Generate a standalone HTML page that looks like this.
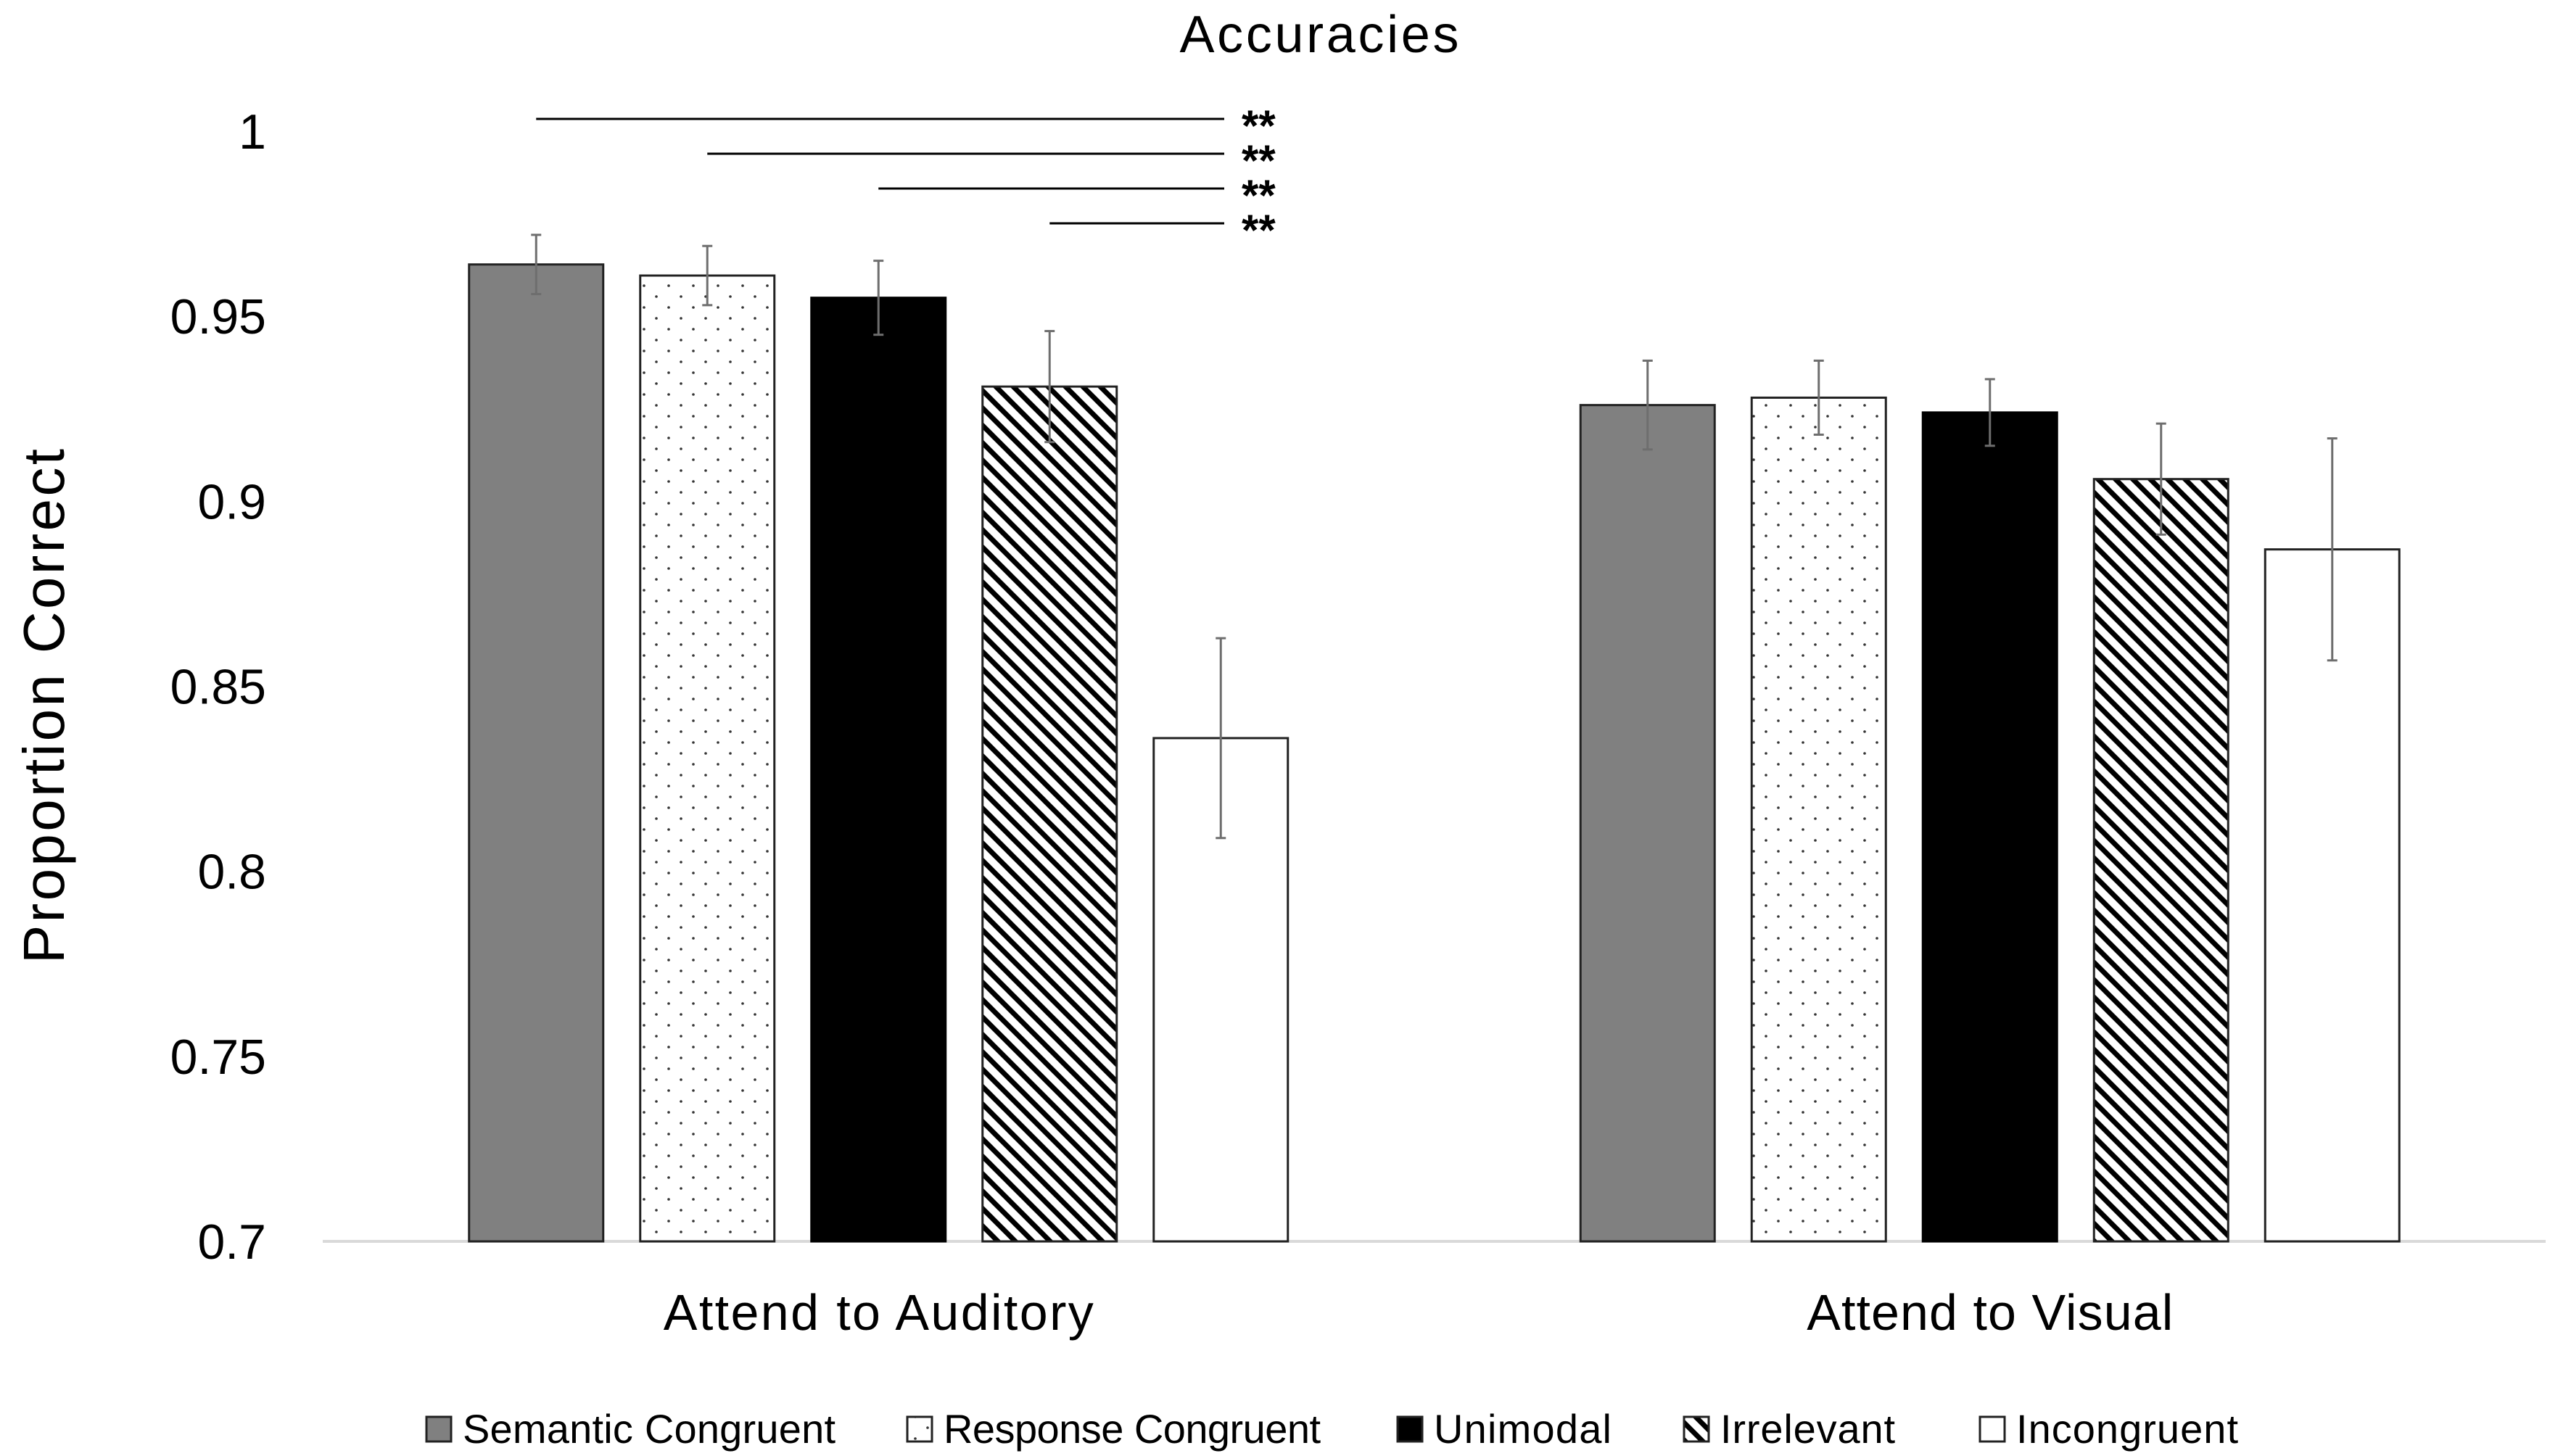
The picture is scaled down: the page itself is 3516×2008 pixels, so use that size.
<!DOCTYPE html>
<html><head><meta charset="utf-8"><style>
html,body{margin:0;padding:0;background:#fff;}
svg{display:block;font-family:"Liberation Sans",sans-serif;}
</style></head><body>
<svg id="chart" width="3516" height="2008" viewBox="0 0 3516 2008" xmlns="http://www.w3.org/2000/svg">
<defs>
<pattern id="dots" patternUnits="userSpaceOnUse" width="34" height="30">
<rect width="34" height="30" fill="#fff"/>
<circle cx="4" cy="4" r="1.8" fill="#333"/><circle cx="21" cy="19" r="1.8" fill="#333"/>
</pattern>
<pattern id="hatch" patternUnits="userSpaceOnUse" width="24" height="24">
<rect width="24" height="24" fill="#fff"/>
<path d="M-6,-6 L30,30 M-18,6 L6,30 M6,-18 L30,6" stroke="#000" stroke-width="7"/>
</pattern>
</defs>
<text x="1819" y="72" font-size="72" text-anchor="middle" textLength="385">Accuracies</text>
<g id="yaxis"></g>
<text transform="translate(88,974) rotate(-90)" font-size="80" text-anchor="middle" textLength="710">Proportion Correct</text>
<line x1="445" y1="1712" x2="3510" y2="1712" stroke="#d9d9d9" stroke-width="4"/>
<g id="bars"></g>
<g id="sig"></g>
<g id="legend"></g>
</svg>
<script>
const categories = ["Attend to Auditory", "Attend to Visual"];
const seriesNames = ["Semantic Congruent", "Response Congruent", "Unimodal", "Irrelevant", "Incongruent"];
const semanticCongruent = [0.964, 0.926];
const responseCongruent = [0.961, 0.928];
const unimodal = [0.955, 0.924];
const irrelevant = [0.931, 0.906];
const incongruent = [0.836, 0.887];
const errSemantic = [0.008, 0.012];
const errResponse = [0.008, 0.010];
const errUnimodal = [0.010, 0.009];
const errIrrelevant = [0.015, 0.015];
const errIncongruent = [0.027, 0.030];
const yTicks = [0.7, 0.75, 0.8, 0.85, 0.9, 0.95, 1];
const yTickLabels = ["0.7", "0.75", "0.8", "0.85", "0.9", "0.95", "1"];
const sigFrom = [0, 1, 2, 3];
const sigLabels = ["**", "**", "**", "**"];

const NS = "http://www.w3.org/2000/svg";
const yMin = 0.7, yMax = 1.0, yBot = 1712, yTop = 181;
function y(v){ return yBot - (v - yMin) / (yMax - yMin) * (yBot - yTop); }
const plotL = 445, plotR = 3510;
const catW = (plotR - plotL) / categories.length;
function catCenter(i){ return plotL + catW * (i + 0.5); }
const barW = 185, barStep = 236;
function barX(ci, si){ return catCenter(ci) - barStep * 2 - barW / 2 + si * barStep; }
const values = [semanticCongruent, responseCongruent, unimodal, irrelevant, incongruent];
const errs = [errSemantic, errResponse, errUnimodal, errIrrelevant, errIncongruent];
const fills = ["#808080", "url(#dots)", "#000", "url(#hatch)", "#fff"];
function mk(tag, attrs, parent){ const e = document.createElementNS(NS, tag); for (const k in attrs) e.setAttribute(k, attrs[k]); parent.appendChild(e); return e; }

const ya = document.getElementById('yaxis');
yTicks.forEach((t, i) => {
  const tx = mk('text', {x: 367, y: y(t) + 24, 'font-size': 68, 'text-anchor': 'end'}, ya);
  
  
  tx.textContent = yTickLabels[i];
});

const bars = document.getElementById('bars');
categories.forEach((c, ci) => {
  const lab = mk('text', {x: catCenter(ci), y: 1834, 'font-size': 70, 'text-anchor': 'middle', textLength: ci === 0 ? 593 : 505}, bars);
  
  
  lab.textContent = c;
  values.forEach((ser, si) => {
    const v = ser[ci];
    const r = mk('rect', {x: barX(ci, si), y: y(v), width: barW, height: yBot - y(v), fill: fills[si], stroke: si === 2 ? '#000' : '#222', 'stroke-width': 3}, bars);
    
    
    const cx = barX(ci, si) + barW / 2, e = errs[si][ci];
    const g = mk('g', {stroke: '#6e6e6e', 'stroke-width': 3}, bars);
    
    
    mk('line', {x1: cx, x2: cx, y1: y(v + e), y2: y(v - e)}, g);
    mk('line', {x1: cx - 7, x2: cx + 7, y1: y(v + e), y2: y(v + e)}, g);
    mk('line', {x1: cx - 7, x2: cx + 7, y1: y(v - e), y2: y(v - e)}, g);
  });
});

const sig = document.getElementById('sig');
sigFrom.forEach((s, i) => {
  const ly = 164 + i * 48;
  const ln = mk('line', {x1: barX(0, s) + barW / 2, x2: 1688, y1: ly, y2: ly, stroke: '#000', 'stroke-width': 3}, sig);
  
  
  const st = mk('text', {x: 1712, y: ly + 30, 'font-size': 60, 'font-weight': 'bold'}, sig);
  
  
  st.textContent = sigLabels[i];
});

const legend = document.getElementById('legend');
const legSwatchX = [588, 1251, 1927, 2322, 2730];
const legTextW = [514, 520, 245, 241, 306];
seriesNames.forEach((n, i) => {
  const g = mk('g', {}, legend);
  
  
  mk('rect', {x: legSwatchX[i], y: 1954, width: 34, height: 34, fill: fills[i], stroke: '#222', 'stroke-width': 3}, g);
  const t = mk('text', {x: legSwatchX[i] + 50, y: 1990, 'font-size': 56, textLength: legTextW[i]}, g);
  t.textContent = n;
});
</script>
</body></html>
